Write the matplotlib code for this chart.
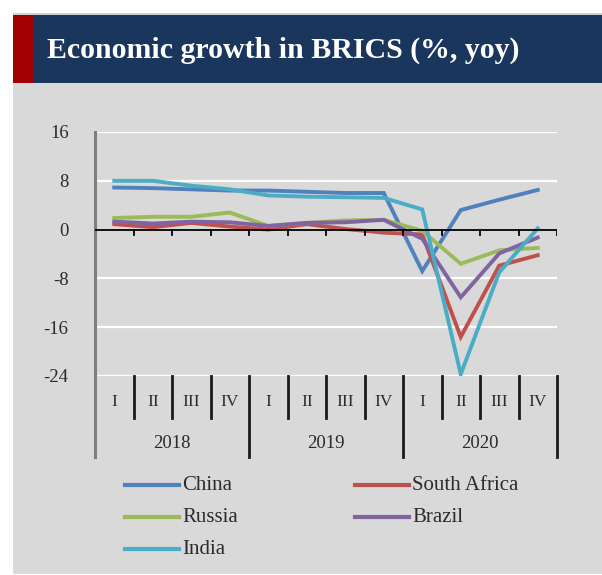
import matplotlib
matplotlib.use("Agg")
import matplotlib.pyplot as plt
from matplotlib.patches import Rectangle
from matplotlib.lines import Line2D
import matplotlib.transforms as mtransforms

# Quarterly GDP growth, % year on year
quarters = ["I", "II", "III", "IV"] * 3
years = ["2018", "2019", "2020"]
china = [6.9, 6.8, 6.6, 6.4, 6.4, 6.2, 6.0, 6.0, -6.8, 3.2, 4.9, 6.5]
south_africa = [0.9, 0.4, 1.1, 0.5, 0.0, 0.9, 0.1, -0.5, -0.8, -17.6, -5.9, -4.2]
russia = [1.9, 2.1, 2.1, 2.8, 0.6, 1.1, 1.5, 1.6, -0.2, -5.6, -3.4, -3.0]
brazil = [1.3, 1.0, 1.3, 1.2, 0.6, 1.1, 1.2, 1.6, -1.5, -11.1, -3.9, -1.3]
india = [8.0, 8.0, 7.2, 6.6, 5.6, 5.4, 5.3, 5.2, 3.3, -23.7, -7.0, 0.2]
y_ticks = [16, 8, 0, -8, -16, -24]

W, H = 602, 575
NAVY = "#1b365d"
RED = "#a00000"
BG = "#d9d9d9"
TXT = "#2b2b2b"
SERIF = "Liberation Serif"

fig = plt.figure(figsize=(W / 100, H / 100), dpi=100)
fig.patch.set_facecolor("white")


def fx(px):
    return px / W


def fy(py):
    return 1 - py / H


def px_rect(x0, y0, x1, y1, color):
    fig.patches.append(Rectangle((fx(x0), fy(y1)), (x1 - x0) / W, (y1 - y0) / H,
                                 transform=fig.transFigure, facecolor=color,
                                 edgecolor="none", zorder=-10))


# background panels
px_rect(13, 13, W, 15, "#d0d0d0")
px_rect(13, 15, W, 83, NAVY)
px_rect(13, 15, 33, 83, RED)
px_rect(13, 83, W, 574, BG)

fig.text(fx(47), fy(50), "Economic growth in BRICS (%, yoy)", color="white",
         fontsize=21.5, fontweight="bold", family=SERIF,
         ha="left", va="center")

# plot area
left, right, top, bottom = 95, 557, 132, 376
ax = fig.add_axes([fx(left), fy(bottom), (right - left) / W, (bottom - top) / H])
ax.patch.set_alpha(0)

n = len(quarters)
x = list(range(n))
ax.set_xlim(-0.5, n - 0.5)
ax.set_ylim(-24, 16)

for v in y_ticks:
    if v != 0:
        ax.axhline(v, color="white", lw=1.6, zorder=1)

series = [
    ("China", china, "#4f81bd"),
    ("South Africa", south_africa, "#c0504d"),
    ("Russia", russia, "#9bbb59"),
    ("Brazil", brazil, "#8064a2"),
    ("India", india, "#4bacc6"),
]
colors = {}
for name, vals, col in series:
    ax.plot(x, vals, color=col, lw=2.8, solid_joinstyle="miter", zorder=3)
    colors[name] = col

# zero axis with small tick marks at quarter boundaries
ax.axhline(0, color="black", lw=1.3, zorder=4)
trans = mtransforms.blended_transform_factory(ax.transData, ax.transAxes)
for b in range(1, n + 1):
    xb = b - 0.5
    ax.plot([xb, xb], [0, -5 / 6.1], color="black", lw=1.3, zorder=4)

# category separators below the plot
h_ax = bottom - top
for b in range(1, n + 1):
    xb = b - 0.5
    low = -81 / h_ax if b % 4 == 0 else -42 / h_ax
    ax.plot([xb, xb], [0, low], color="#1a1a1a", lw=2.0, transform=trans,
            clip_on=False, zorder=4)

for i, q in enumerate(quarters):
    ax.text(i, -26 / h_ax, q, transform=trans, ha="center", va="center",
            fontsize=12.5, family=SERIF, color=TXT)
for j, yr in enumerate(years):
    ax.text(4 * j + 1.5, -67 / h_ax, yr, transform=trans, ha="center", va="center",
            fontsize=13.5, family=SERIF, color=TXT)

# value axis
for s in ["top", "right", "bottom"]:
    ax.spines[s].set_visible(False)
ax.spines["left"].set_color("#7f7f7f")
ax.spines["left"].set_linewidth(2.2)
ax.spines["left"].set_bounds(-24, 16)
ax.plot([-0.5, -0.5], [0, -81 / h_ax], color="#7f7f7f", lw=2.2, transform=trans,
        clip_on=False, zorder=4)
ax.set_yticks(y_ticks)
ax.set_yticklabels([str(v) for v in y_ticks], fontsize=13.5, family=SERIF,
                   color=TXT)
ax.tick_params(axis="y", length=0, pad=19)
ax.set_xticks([])

# legend: two columns, line sample followed directly by the name
legend_slots = {
    "China": (125, 485),
    "Russia": (125, 517),
    "India": (125, 549),
    "South Africa": (355, 485),
    "Brazil": (355, 517),
}
for name, (lx, ly) in legend_slots.items():
    fig.add_artist(Line2D([fx(lx), fx(lx + 54)], [fy(ly), fy(ly)],
                          transform=fig.transFigure, color=colors[name], lw=3))
    fig.text(fx(lx + 57), fy(ly), name, fontsize=15, family=SERIF, color=TXT,
             ha="left", va="center")

fig.savefig("out.png", dpi=100, facecolor=fig.get_facecolor())
